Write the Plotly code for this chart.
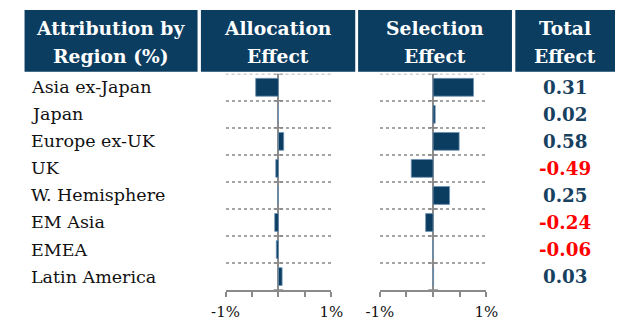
import plotly.graph_objects as go

# Attribution data (% points)
regions = ["Asia ex-Japan", "Japan", "Europe ex-UK", "UK", "W. Hemisphere",
           "EM Asia", "EMEA", "Latin America"]
allocation = [-0.43, 0.00, 0.10, -0.05, -0.01, -0.07, -0.04, 0.07]
selection = [0.76, 0.04, 0.49, -0.41, 0.31, -0.14, -0.01, 0.01]
total = [0.31, 0.02, 0.58, -0.49, 0.25, -0.24, -0.06, 0.03]
x_tickvals = [-1, -0.5, 0, 0.5, 1]
x_ticktext = ["-1%", "", "", "", "1%"]
headers = [["Attribution by", "Region (%)"], ["Allocation", "Effect"],
           ["Selection", "Effect"], ["Total", "Effect"]]

W, H = 627, 321
NAVY = "#0b3d61"
RED = "#ff0000"
GREY = "#8a8a8a"
FONT = "DejaVu Serif"

def px(x):
    return x / W

def py(y):
    return 1 - y / H

plot_top, plot_bot = 74, 291
alloc_dom = [px(220.7), px(331)]
sel_dom = [px(381.7), px(492.7)]
ydom = [py(plot_bot), py(plot_top)]
n = len(regions)
row_h = (plot_bot - plot_top) / n

def row_y(r):
    # paper y of the centre of category row r
    return py(plot_top + (r + 0.5) * row_h)

rows = list(range(n))
fig = go.Figure()
bar_style = dict(orientation="h", marker=dict(color=NAVY, line=dict(color="#6f93b5", width=0.8)),
                 showlegend=False, hoverinfo="x+y")
fig.add_trace(go.Bar(x=allocation, y=rows, xaxis="x", yaxis="y", **bar_style))
fig.add_trace(go.Bar(x=selection, y=rows, xaxis="x2", yaxis="y2", **bar_style))

boundaries = [r - 0.5 for r in range(n + 1)]

xaxis_style = dict(range=[-1, 1], showgrid=False, zeroline=True, zerolinecolor=GREY,
                   zerolinewidth=2, showline=True, linecolor=GREY, linewidth=1.5,
                   ticks="outside", ticklen=5, tickcolor=GREY, tickwidth=1.5,
                   tickvals=x_tickvals, ticktext=x_ticktext, ticklabelstandoff=2,
                   tickfont=dict(family=FONT, size=15, color="#111"), fixedrange=True)
yaxis_style = dict(range=[n - 0.5, -0.5], domain=ydom, showgrid=True,
                   griddash="dot", gridcolor="#a5a5a5", gridwidth=1.5,
                   tickvals=boundaries[:-1], showticklabels=False, ticks="",
                   zeroline=False, showline=False, fixedrange=True)

fig.update_layout(
    width=W, height=H, margin=dict(l=0, r=0, t=0, b=0), autosize=False,
    paper_bgcolor="white", plot_bgcolor="white", bargap=0.34,
    xaxis=dict(domain=alloc_dom, anchor="y", **xaxis_style),
    xaxis2=dict(domain=sel_dom, anchor="y2", **xaxis_style),
    yaxis=dict(anchor="x", **yaxis_style),
    yaxis2=dict(anchor="x2", matches="y", **yaxis_style),
)

shapes = []
annotations = []

for xr, yr in (("x", "y"), ("x2", "y2")):
    # dotted boundary along the top edge of the plot
    shapes.append(dict(type="line", xref=xr, yref=yr, x0=-1, x1=1, y0=-0.5, y1=-0.5,
                       line=dict(color="#a5a5a5", width=1.5, dash="dot")))
    # small cross ticks on the zero axis at each category boundary
    for b in boundaries:
        shapes.append(dict(type="line", xref=xr, yref=yr, x0=-0.09, x1=0.09, y0=b, y1=b,
                           line=dict(color=GREY, width=1.5)))

# Header boxes
box_x = [(11, 191.5), (195, 356), (359, 519.5), (523, 627)]
text_cx = [101, 275.5, 439, 575]
for (x0, x1), cx, lines in zip(box_x, text_cx, headers):
    shapes.append(dict(type="rect", xref="paper", yref="paper", x0=px(x0), x1=px(x1),
                       y0=py(72), y1=py(10), fillcolor=NAVY, line=dict(width=0), layer="below"))
    for line, yc in zip(lines, (28, 56)):
        annotations.append(dict(text=f"<b>{line}</b>", xref="paper", yref="paper",
                                x=px(cx), y=py(yc), xanchor="center", yanchor="middle",
                                showarrow=False,
                                font=dict(family=FONT, size=18.7, color="white")))

# Row labels and total effect values
for r, name, tot in zip(rows, regions, total):
    annotations.append(dict(text=name, xref="paper", yref="paper", x=px(16), y=row_y(r),
                            xanchor="left", yanchor="middle", showarrow=False,
                            font=dict(family=FONT, size=17.5, color="#111")))
    annotations.append(dict(text=f"<b>{tot:.2f}</b>", xref="paper", yref="paper",
                            x=px(575), y=row_y(r), xanchor="center", yanchor="middle",
                            showarrow=False,
                            font=dict(family=FONT, size=18.3,
                                      color=RED if tot < 0 else "#17415f")))

fig.update_layout(shapes=shapes, annotations=annotations)
fig.write_html("out.html")
